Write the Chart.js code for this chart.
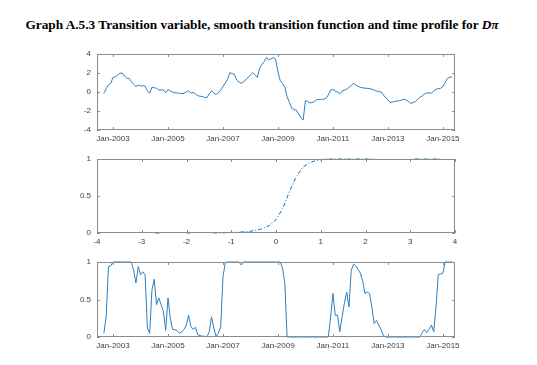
<!DOCTYPE html>
<html>
<head>
<meta charset="utf-8">
<script src="https://cdn.jsdelivr.net/npm/chart.js@4/dist/chart.umd.min.js"></script>
<style>
  body { margin: 0; background: #fff; }
  #wrap { position: relative; width: 537px; height: 365px; background: #fff; }
  #title { position: absolute; left: 0; top: 17px; width: 524px; text-align: center;
           font: bold 13.3px "Liberation Serif", "Times New Roman", serif; color: #000; }
  canvas { position: absolute; left: 0; }
</style>
</head>
<body>
<div id="wrap">
  <div id="title">Graph A.5.3 Transition variable, smooth transition function and time profile for <i>Dπ</i></div>
  <canvas id="c1" width="537" height="112" style="top:40px"></canvas>
  <canvas id="c2" width="537" height="110" style="top:145px"></canvas>
  <canvas id="c3" width="537" height="111" style="top:248px"></canvas>
</div>
<script>
// monthly series, first observation Sep-2002
const firstMonth = '2002-09';

// transition variable (top panel)
const transVar = [
  -0.14, 0.35, 0.74, 0.9, 1.55, 1.6, 1.75, 1.97, 2.0, 1.68,
  1.44, 1.44, 1.09, 0.8, 0.56, 0.74, 0.63, 0.65, 0.63, 0.14,
  -0.14, 0.49, 0.45, 0.39, 0.2, 0.22, 0.2, -0.07, 0.28, 0.1,
  0.0, -0.07, -0.1, -0.14, -0.15, -0.14, 0.0, 0.14, -0.14, -0.03,
  -0.2, -0.39, -0.45, -0.49, -0.55, -0.6, -0.2, 0.14, -0.1, -0.25,
  -0.07, 0.2, 0.56, 0.95, 1.33, 2.03, 1.95, 1.86, 1.26, 1.05,
  0.91, 1.09, 1.3, 1.51, 1.8, 2.03, 1.8, 1.55, 2.49, 2.9,
  3.19, 3.65, 3.37, 3.5, 3.61, 3.44, 2.1, 1.2, 0.9, 0.5,
  -0.5, -1.1, -1.7, -1.85, -1.9, -2.3, -2.7, -2.95, -0.9, -1.0,
  -1.15, -1.1, -1.0, -0.8, -0.8, -0.77, -0.75, -0.67, -0.3, 0.21,
  0.28, 0.1, 0.0, -0.21, 0.1, 0.21, 0.28, 0.49, 0.7, 0.91,
  0.74, 0.6, 0.49, 0.45, 0.39, 0.39, 0.35, 0.3, 0.21, 0.1,
  0.04, 0.0, -0.3, -0.6, -0.8, -1.12, -1.05, -1.0, -0.95, -0.91,
  -0.85, -0.77, -0.84, -1.0, -1.19, -1.12, -1.0, -0.77, -0.55, -0.42,
  -0.2, -0.1, -0.07, -0.14, 0.1, 0.28, 0.35, 0.39, 0.56, 1.0,
  1.44, 1.55, 1.6
];

// time profile of the transition function (bottom panel)
const timeProfile = [
  0.05, 0.27, 0.94, 0.95, 1, 1, 1, 1, 1, 1,
  1, 1, 1, 0.89, 0.72, 0.94, 0.83, 0.87, 0.83, 0.12,
  0.05, 0.63, 0.77, 0.43, 0.52, 0.43, 0.34, 0.09, 0.52, 0.25,
  0.1, 0.1, 0.08, 0.05, 0.07, 0.1, 0.16, 0.29, 0.14, 0.1,
  0.13, 0.03, 0.02, 0.01, 0.01, 0, 0.07, 0.27, 0.12, 0.01,
  0.05, 0.14, 0.8, 0.99, 1, 1, 1, 1, 1, 1,
  0.96, 1, 1, 1, 1, 1, 1, 1, 1, 1,
  1, 1, 1, 1, 1, 1, 1, 1, 0.92, 0.72,
  0, 0, 0, 0, 0, 0, 0, 0, 0, 0,
  0, 0, 0, 0, 0, 0, 0, 0, 0, 0.27,
  0.58, 0.29, 0.29, 0.07, 0.27, 0.45, 0.6, 0.4, 0.89, 0.97,
  0.95, 0.9, 0.85, 0.74, 0.58, 0.6, 0.58, 0.4, 0.18, 0.22,
  0.16, 0.1, 0.02, 0, 0, 0, 0, 0, 0, 0,
  0, 0, 0, 0, 0, 0, 0, 0, 0, 0.06,
  0.1, 0.06, 0.1, 0.16, 0.07, 0.4, 0.83, 0.84, 0.85, 1,
  1, 1, 1
];

// smooth transition function (middle panel): sorted transition variable vs G
const fnX = [-2.7, -2.6, null, -2.0, -1.9, null, -1.4, -1.0, -0.6, -0.35, -0.15, 0.0, 0.15, 0.3, 0.45, 0.6, 0.75, 0.9, 1.1, 1.6, 2.2, null, 3.1, 3.7];
const fnG = [0, 0, null, 0, 0, null, 0, 0.005, 0.02, 0.05, 0.1, 0.18, 0.33, 0.56, 0.76, 0.89, 0.95, 0.98, 1, 1, 1, null, 1, 1];

const dateTicks = ['Jan-2003', 'Jan-2005', 'Jan-2007', 'Jan-2009', 'Jan-2011', 'Jan-2013', 'Jan-2015'];
const fnTicks = [-4, -3, -2, -1, 0, 1, 2, 3, 4];

// x in months since Jan-2002
const [fy, fm] = firstMonth.split('-').map(Number);
const m0 = (fy - 2002) * 12 + (fm - 1);
const monthX = i => m0 + i;
const dateTickVals = dateTicks.map(s => (Number(s.slice(4)) - 2002) * 12);
const X_MIN = 5.0, X_MAX = 161.3;

const LINE = '#2b7fc1';
const FONT = { family: '"Liberation Sans", Arial, sans-serif', size: 8 };
const plain = v => String(v);

const boxPlugin = {
    id: 'box',
    afterDraw(chart) {
        const { ctx, chartArea: a, scales } = chart;
        ctx.save();
        ctx.strokeStyle = '#8c8c8c';
        ctx.lineWidth = 1;
        ctx.strokeRect(a.left + 0.5, a.top + 0.5, a.width - 1, a.height - 1);
        ctx.beginPath();
        scales.x.ticks.forEach(t => {
            const px = Math.round(scales.x.getPixelForValue(t.value)) + 0.5;
            ctx.moveTo(px, a.bottom); ctx.lineTo(px, a.bottom - 3);
            ctx.moveTo(px, a.top); ctx.lineTo(px, a.top + 3);
        });
        scales.y.ticks.forEach(t => {
            const py = Math.round(scales.y.getPixelForValue(t.value)) + 0.5;
            ctx.moveTo(a.left, py); ctx.lineTo(a.left + 3, py);
            ctx.moveTo(a.right, py); ctx.lineTo(a.right - 3, py);
        });
        ctx.stroke();
        ctx.restore();
    }
};

function makeChart(id, datasets, xOpts, yOpts) {
    return new Chart(document.getElementById(id), {
        type: 'line',
        data: { datasets },
        options: {
            responsive: false,
            animation: false,
            layout: { padding: { left: 57, right: 82, top: 14, bottom: 0 } },
            plugins: { legend: { display: false }, tooltip: { enabled: false } },
            elements: { point: { radius: 0 }, line: { tension: 0 } },
            scales: {
                x: Object.assign({
                    type: 'linear',
                    grid: { display: false, drawTicks: false },
                    border: { display: false },
                    afterFit: s => { s.height = 22; },
                }, xOpts),
                y: Object.assign({
                    type: 'linear',
                    grid: { display: false, drawTicks: false },
                    border: { display: false },
                    afterFit: s => { s.width = 40; },
                }, yOpts)
            }
        },
        plugins: [boxPlugin]
    });
}

const dateAxis = {
    min: X_MIN, max: X_MAX,
    afterBuildTicks: s => { s.ticks = dateTickVals.map(v => ({ value: v })); },
    ticks: { autoSkip: false, maxRotation: 0, padding: 4, color: '#404040', font: FONT,
             callback: (v, i) => dateTicks[i] }
};

makeChart('c1', [{
    data: transVar.map((v, i) => ({ x: monthX(i), y: v })),
    borderColor: LINE, borderWidth: 1, clip: 3
}], dateAxis, {
    min: -4, max: 4,
    ticks: { stepSize: 2, padding: 6, color: '#404040', font: FONT, callback: plain }
});

makeChart('c2', [{
    data: fnX.map((v, i) => ({ x: v, y: fnG[i] })),
    borderColor: '#0072BD', borderWidth: 1, borderDash: [4, 2, 1, 2], spanGaps: false, clip: 3
}], {
    min: -4, max: 4,
    afterBuildTicks: s => { s.ticks = fnTicks.map(v => ({ value: v })); },
    ticks: { autoSkip: false, maxRotation: 0, padding: 4, color: '#404040', font: FONT }
}, {
    min: 0, max: 1,
    ticks: { stepSize: 0.5, padding: 6, color: '#404040', font: FONT, callback: plain }
});

makeChart('c3', [{
    data: timeProfile.map((v, i) => ({ x: monthX(i), y: v })),
    borderColor: LINE, borderWidth: 1, clip: 3
}], dateAxis, {
    min: 0, max: 1,
    ticks: { stepSize: 0.5, padding: 6, color: '#404040', font: FONT, callback: plain }
});
</script>
</body>
</html>
